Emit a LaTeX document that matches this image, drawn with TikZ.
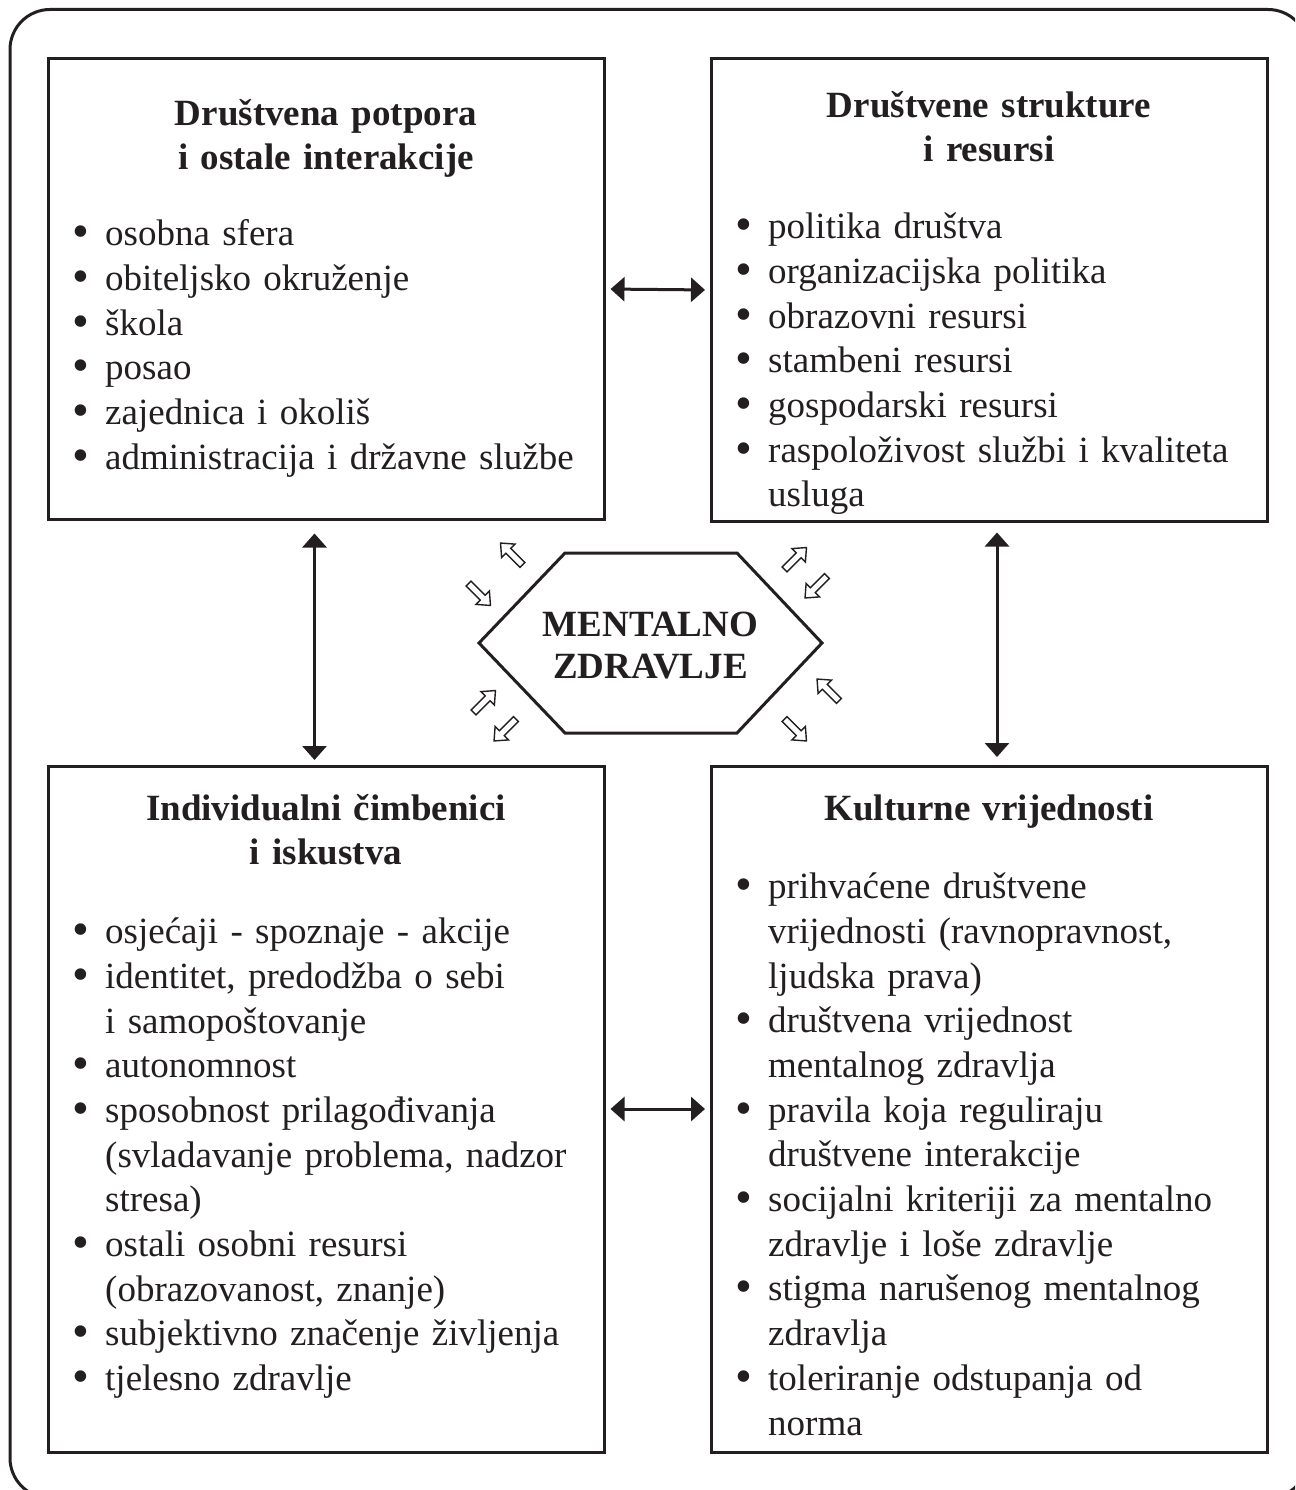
\documentclass[tikz,border=0pt]{standalone}
\usepackage{fontspec}
\setmainfont{Liberation Serif}
\usetikzlibrary{arrows.meta}
\definecolor{ink}{RGB}{35,31,32}
\newcommand\bitem[1]{\par\noindent\strut\makebox[32pt][l]{\hspace*{-1pt}\raisebox{-2pt}{\scalebox{1.3}{•}}}#1}
\newcommand\bcont[1]{\par\noindent\strut\hspace*{32pt}#1}
\begin{document}
\begin{tikzpicture}[x=1pt,y=-1pt,
  box/.style={draw=ink, line width=3pt, minimum width=556pt, anchor=north west, inner sep=0pt, outer sep=0pt},
  head/.style={anchor=north, align=center, text width=540pt, inner sep=0pt, font=\fontsize{37}{44.7}\selectfont\bfseries, text=ink},
  blist/.style={anchor=north west, text width=525pt, align=left, inner sep=0pt, font=\fontsize{37}{44.7}\selectfont, text=ink},
  dbl/.style={draw=ink, line width=3pt, {Triangle[width=24pt,length=14pt]}-{Triangle[width=24pt,length=14pt]}},
  hollow/.pic={\draw[ink, line width=1.4pt, fill=white, line join=miter]
     (-15.5,-3.5) -- (4.5,-3.5) -- (4.5,-9.5) -- (15.5,0) -- (4.5,9.5) -- (4.5,3.5) -- (-15.5,3.5) -- cycle;}
]
\useasboundingbox (0,0) rectangle (1295,1490);
\clip (0,0) rectangle (1295,1490);
\fill[white] (0,0) rectangle (1295,1490);
% outer frame
\draw[ink, line width=3pt, rounded corners=40pt] (10,9.5) rectangle (1308,1498);

% boxes
\node[box, minimum height=461pt] (TL) at (48.5,58.5) {};
\node[box, minimum height=463pt] (TR) at (711,58.5) {};
\node[box, minimum height=686pt] (BL) at (48.5,766) {};
\node[box, minimum height=686pt] (BR) at (711,766) {};

% headings
\node[head] (TLh) at (326,93.7) {\strut Društvena potpora\\ i ostale interakcije};
\node[head] (TRh) at (989,85.7) {\strut Društvene strukture\\ i resursi};
\node[head] (BLh) at (326,788.7) {\strut Individualni čimbenici\\ i iskustva};
\node[head] (BRh) at (989,788.7) {\strut Kulturne vrijednosti};

% lists
\node[blist] (TLl) at (73,200.7) {%
  \bitem{osobna sfera}
  \bitem{obiteljsko okruženje}
  \bitem{škola}
  \bitem{posao}
  \bitem{zajednica i okoliš}
  \bitem{administracija i državne službe}};
\node[blist] (TRl) at (736,193.7) {%
  \bitem{politika društva}
  \bitem{organizacijska politika}
  \bitem{obrazovni resursi}
  \bitem{stambeni resursi}
  \bitem{gospodarski resursi}
  \bitem{raspoloživost službi i kvaliteta}
  \bcont{usluga}};
\node[blist] (BLl) at (73,898.7) {%
  \bitem{osjećaji - spoznaje - akcije}
  \bitem{identitet, predodžba o sebi}
  \bcont{i samopoštovanje}
  \bitem{autonomnost}
  \bitem{sposobnost prilagođivanja}
  \bcont{(svladavanje problema, nadzor}
  \bcont{stresa)}
  \bitem{ostali osobni resursi}
  \bcont{(obrazovanost, znanje)}
  \bitem{subjektivno značenje življenja}
  \bitem{tjelesno zdravlje}};
\node[blist] (BRl) at (736,853.7) {%
  \bitem{prihvaćene društvene}
  \bcont{vrijednosti (ravnopravnost,}
  \bcont{ljudska prava)}
  \bitem{društvena vrijednost}
  \bcont{mentalnog zdravlja}
  \bitem{pravila koja reguliraju}
  \bcont{društvene interakcije}
  \bitem{socijalni kriteriji za mentalno}
  \bcont{zdravlje i loše zdravlje}
  \bitem{stigma narušenog mentalnog}
  \bcont{zdravlja}
  \bitem{toleriranje odstupanja od}
  \bcont{norma}};

% connectors between boxes
\draw[dbl, shorten <=6pt, shorten >=6pt] (TL.east) -- (TR.west);
\draw[dbl, shorten <=6pt, shorten >=6pt] (BL.east) -- (BR.west);
\draw[dbl, shorten <=14pt, shorten >=6pt] ([xshift=-12pt]TL.south) -- ([xshift=-12pt]BL.north);
\draw[dbl, shorten <=11pt, shorten >=9pt] ([xshift=8pt]TR.south) -- ([xshift=8pt]BR.north);

% hexagon
\coordinate (h1) at (479,643);
\coordinate (h2) at (565,553);
\coordinate (h3) at (737,553);
\coordinate (h4) at (822,643);
\coordinate (h5) at (737,733);
\coordinate (h6) at (565,733);
\draw[ink, line width=3pt, line join=miter] (h1) -- (h2) -- (h3) -- (h4) -- (h5) -- (h6) -- cycle;
\node[anchor=north, align=center, inner sep=0pt, font=\fontsize{37}{42}\selectfont\bfseries, text=ink] (mz) at (650.5,606.6) {\strut MENTALNO\\ZDRAVLJE};

% hollow arrows
\pic[rotate=135] at (511.5,554) {hollow};
\pic[rotate=-45] at (479.5,594.5) {hollow};
\pic[rotate=45] at (484.5,701.5) {hollow};
\pic[rotate=-135] at (505,730) {hollow};
\pic[rotate=45] at (795.5,558.5) {hollow};
\pic[rotate=-135] at (816,587) {hollow};
\pic[rotate=135] at (828,690) {hollow};
\pic[rotate=-45] at (795.5,730) {hollow};
\end{tikzpicture}
\end{document}
